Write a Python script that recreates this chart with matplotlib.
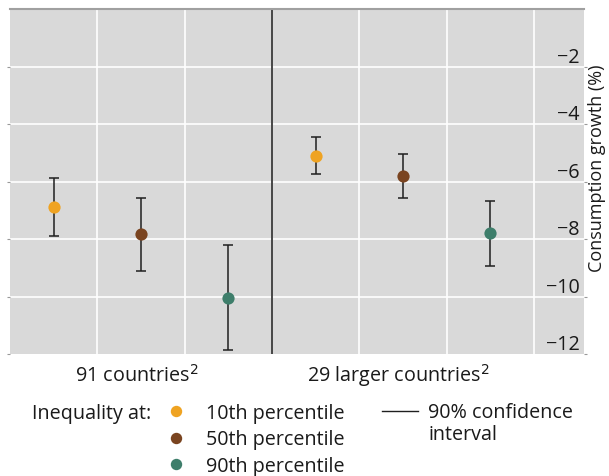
import matplotlib
matplotlib.use("Agg")
import matplotlib.pyplot as plt
from matplotlib.lines import Line2D

plt.rcParams['font.family'] = ['Open Sans', 'DejaVu Sans']

# ---- data ----
groups = ["91 countries$^2$", "29 larger countries$^2$"]
percentiles = ["10th percentile", "50th percentile", "90th percentile"]
colors = ["#EFA322", "#7A4420", "#3E7E6B"]
# point estimates and 90% confidence bounds (per percentile)
estimates_91 = [-6.88, -7.84, -10.05]
estimates_29 = [-5.10, -5.80, -7.80]
lower_91 = [-7.91, -9.10, -11.87]
upper_91 = [-5.87, -6.57, -8.20]
lower_29 = [-5.74, -6.57, -8.94]
upper_29 = [-4.46, -5.03, -6.67]
yticks = [-2, -4, -6, -8, -10, -12]

W, H = 609, 476
FS = 14.2
TXT = "#1a1a1a"
fig = plt.figure(figsize=(W / 100, H / 100), dpi=100)
fig.patch.set_facecolor("white")

ax_l, ax_r, ax_t, ax_b = 10, 584, 9, 354
ax = fig.add_axes([ax_l / W, 1 - ax_b / H, (ax_r - ax_l) / W, (ax_b - ax_t) / H])
ax.set_facecolor("#D9D9D9")
ax.set_xlim(0, (ax_r - ax_l) / 87.3)
ax.set_ylim(-12, 0)

# grid
for gx in [1, 2, 4, 5, 6]:
    ax.axvline(gx, color="white", lw=1.2, zorder=1)
for gy in yticks[:-1]:
    ax.axhline(gy, color="white", lw=1.2, zorder=1)
ax.axvline(3, color="#474747", lw=1.4, zorder=2)

for s in ["left", "right", "bottom"]:
    ax.spines[s].set_visible(False)
ax.spines["top"].set_color("#A0A0A0")
ax.spines["top"].set_linewidth(1.5)

ax.set_xticks([])
ax.set_yticks(yticks)
ax.tick_params(axis="y", left=True, right=True, direction="out", length=2,
               color="#999999", labelleft=False, labelright=False)

# y tick labels inside plot, sitting above grid lines
for v in yticks:
    ax.annotate(f"\u2212{abs(v)}", xy=(1.0, v), xycoords=("axes fraction", "data"),
                xytext=(-3, 2.6), textcoords="offset points",
                ha="right", va="baseline", fontsize=FS, color=TXT)

# data points with error bars
xs_91 = [0.5, 1.5, 2.5]
xs_29 = [3.5, 4.5, 5.5]
for xs, est, lo, hi in [(xs_91, estimates_91, lower_91, upper_91),
                        (xs_29, estimates_29, lower_29, upper_29)]:
    for x, e, l, h, c in zip(xs, est, lo, hi, colors):
        ax.errorbar([x], [e], yerr=[[e - l], [h - e]], fmt="none",
                    ecolor="#1f1f1f", elinewidth=1.1, capsize=3.4,
                    capthick=1.1, zorder=3)
        ax.plot([x], [e], "o", color=c, markersize=8.8, zorder=4,
                markeredgewidth=0)

# group labels
for gx, g in zip([1.5, 4.5], groups):
    ax.annotate(g, xy=(gx, 0), xycoords=("data", "axes fraction"),
                xytext=(-3, -20.2), textcoords="offset points",
                ha="center", va="baseline", fontsize=FS, color=TXT)

# y label
fig.text(597 / W, 1 - 168 / H, "Consumption growth (%)", rotation=90,
         ha="center", va="center", fontsize=13.0, color=TXT)

# legend (manual)
def fy(py):
    return 1 - py / H

fig.text(32 / W, fy(418.5), "Inequality at:", ha="left", va="baseline",
         fontsize=FS, color=TXT)
rows_base = [418.5, 445.3, 472]
dots_y = [411, 438, 464]
for pb, pdot, c, lab in zip(rows_base, dots_y, colors, percentiles):
    fig.add_artist(Line2D([176 / W], [fy(pdot)], marker="o", color=c,
                          markersize=8.2, markeredgewidth=0, linestyle="none"))
    fig.text(206 / W, fy(pb), lab, ha="left", va="baseline", fontsize=FS,
             color=TXT)
fig.add_artist(Line2D([382 / W, 418 / W], [fy(411), fy(411)], color="#1f1f1f",
                      lw=1.0))
fig.text(428 / W, fy(418.5), "90% confidence", ha="left", va="baseline",
         fontsize=FS, color=TXT)
fig.text(428 / W, fy(440), "interval", ha="left", va="baseline",
         fontsize=FS, color=TXT)

fig.savefig("out.png", dpi=100)
